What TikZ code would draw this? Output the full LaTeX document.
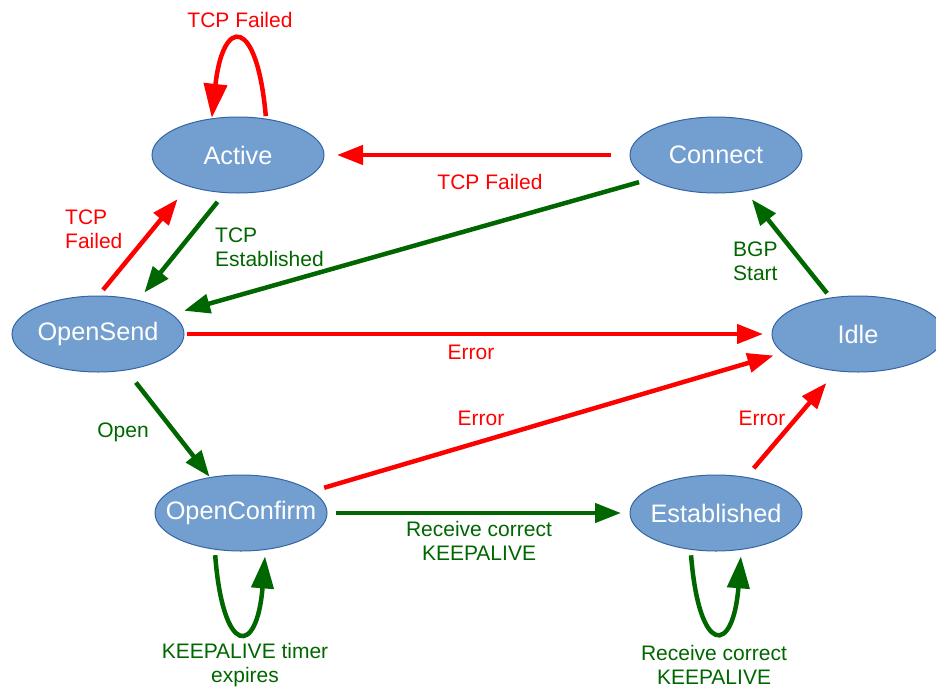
\documentclass[tikz,border=0pt]{standalone}
\usepackage{fontspec}
\setmainfont{Liberation Sans}
\usetikzlibrary{arrows.meta,shapes.geometric}
\definecolor{nodefill}{HTML}{729FCF}
\definecolor{nodeline}{HTML}{3465A4}
\definecolor{ered}{HTML}{FF0000}
\definecolor{egreen}{HTML}{006600}
\newcommand{\stxt}[1]{\makebox[0pt]{#1}}
\begin{document}
\begin{tikzpicture}[x=1pt,y=-1pt,
  state/.style={ellipse, draw=nodeline, line width=1pt, fill=nodefill,
    minimum width=172pt, minimum height=76pt, inner sep=0pt, outer sep=0pt,
    text=white, font=\fontsize{25.3}{28}\selectfont},
  redarrow/.style={draw=ered, line width=4.5pt, -{Triangle[length=26pt,width=19pt]}},
  greenarrow/.style={draw=egreen, line width=4.5pt, -{Triangle[length=26pt,width=19pt]}},
  redloop/.style={draw=ered, line width=4.5pt, -{Triangle[length=34pt,width=23pt]}},
  greenloop/.style={draw=egreen, line width=4.5pt, -{Triangle[length=32pt,width=22pt]}},
  lbl/.style={font=\fontsize{21}{24}\selectfont, inner sep=0pt},
  redlbl/.style={lbl, text=ered},
  greenlbl/.style={lbl, text=egreen}
]
\clip (0,0) rectangle (936,688);

\node[state] (Active) at (238,155) {\stxt{Active}};
\node[state] (Connect) at (716,155) {\stxt{Connect}};
\node[state] (OpenSend) at (98,334) {\stxt{OpenSend}};
\node[state] (Idle) at (858,334) {\stxt{Idle}};
\node[state] (OpenConfirm) at (241,513) {\stxt{OpenConfirm}};
\node[state] (Established) at (716,513) {\stxt{Established}};

% Active self loop
\draw[redloop, shorten <=3pt, shorten >=1pt] (Active.52) .. controls (257,16) and (223,16) .. (Active.126);
\node[redlbl] (l1) at (240,20) {TCP Failed};

% Connect -> Active
\draw[redarrow, shorten <=19pt, shorten >=13pt] (Connect.west) -- (Active.east);
\node[redlbl] (l2) at (490,182) {TCP Failed};

% Connect -> OpenSend
\draw[greenarrow, shorten <=11pt, shorten >=13pt] (Connect.200) -- (OpenSend.15);

% Active -> OpenSend
\draw[greenarrow, shorten <=12pt, shorten >=10pt] (Active.251) -- (OpenSend.40);
\node[greenlbl, align=left, anchor=west] (l3) at (215,247) {TCP\\Established};

% OpenSend -> Active
\draw[redarrow, shorten <=8pt, shorten >=17pt] (OpenSend.90) -- (Active.212);
\node[redlbl, align=left, anchor=west] (l4) at (65,229) {TCP\\Failed};

% OpenSend -> Idle
\draw[redarrow, shorten <=3pt, shorten >=9pt] (OpenSend.east) -- (Idle.west);
\node[redlbl] (l5) at (471,352) {Error};

% Idle -> Connect
\draw[greenarrow, shorten <=6pt, shorten >=11pt] (Idle.127) -- (Connect.-51);
\node[greenlbl, align=left, anchor=west] (l6) at (733,261) {BGP\\Start};

% OpenSend -> OpenConfirm
\draw[greenarrow, shorten <=16pt, shorten >=1pt] (OpenSend.-52) -- (OpenConfirm.131);
\node[greenlbl] (l7) at (123,432) {Open};

% OpenConfirm -> Idle
\draw[redarrow, shorten <=13pt, shorten >=10pt] (OpenConfirm.17) -- (Idle.194);
\node[redlbl] (l8) at (481,418) {Error};

% OpenConfirm -> Established
\draw[greenarrow, shorten <=9pt, shorten >=9pt] (OpenConfirm.east) -- (Established.west);
\node[greenlbl, align=center] (l9) at (479,541) {Receive correct\\KEEPALIVE};

% Established -> Idle
\draw[redarrow, shorten <=12pt, shorten >=16pt] (Established.50) -- (Idle.240);
\node[redlbl] (l10) at (762,418) {Error};

% OpenConfirm self loop
\draw[greenloop, shorten <=6pt, shorten >=7pt] (OpenConfirm.234) .. controls (223,657) and (257,657) .. (OpenConfirm.-56);
\node[greenlbl, align=center] (l11) at (245,665) {KEEPALIVE timer\\expires};

% Established self loop
\draw[greenloop, shorten <=6pt, shorten >=7pt] (Established.235) .. controls (699,656) and (733,656) .. (Established.-55);
\node[greenlbl, align=center] (l12) at (714,665) {Receive correct\\KEEPALIVE};
\end{tikzpicture}
\end{document}
